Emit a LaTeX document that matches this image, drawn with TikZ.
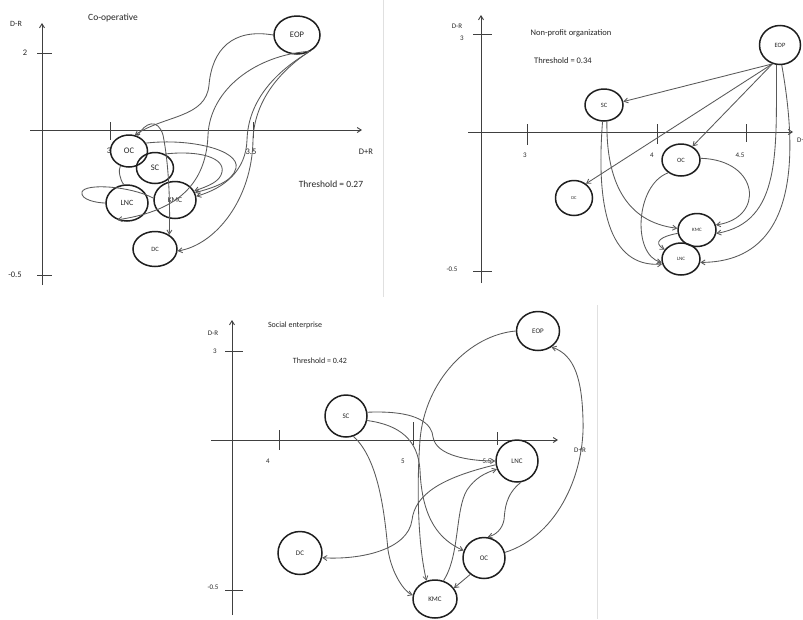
\documentclass[tikz,border=0pt]{standalone}
\usepackage{fontspec}
\setmainfont{Carlito}
\usetikzlibrary{shapes.geometric,arrows.meta}
\newcommand\fsz[1]{\fontsize{#1}{#1}\selectfont}
\begin{document}
\begin{tikzpicture}[x=1pt,y=-1pt,
  nd/.style={ellipse,draw=black!88,line width=1.5pt,inner sep=0pt,text=black!85},
  ax/.style={draw=black!75,line width=0.9pt},
  axa/.style={ax,-{Straight Barb[length=4pt,width=5pt]}},
  ed/.style={draw=black!65,line width=0.85pt,-{Straight Barb[length=4pt,width=5pt]}},
  edn/.style={draw=black!65,line width=0.85pt},
  lb/.style={text=black!85,inner sep=0pt},
]
\useasboundingbox (0,0) rectangle (803,619);
\fill[white] (0,0) rectangle (803,619);
% faint frame lines
\draw[black!12,line width=0.6pt] (383,0) -- (383,297);
\draw[black!12,line width=0.6pt] (597,305) -- (597,619);

% ================= Panel 1: Co-operative =================
\draw[axa] (42,285) -- (42,23);
\draw[axa] (30,130) -- (362,130);
\draw[ax] (37,53) -- (52,53);
\draw[ax] (37,275) -- (52,275);
\draw[ax] (110,122) -- (110,140);
\draw[ax] (253,122) -- (253,138);
\node[lb,font=\fsz{8}] (aDR) at (16,24) {D-R};
\node[lb,font=\fsz{8.5}] (aY2) at (25,53) {2};
\node[lb,font=\fsz{8.5}] (aYm) at (15,275) {-0.5};
\node[lb,font=\fsz{8.5}] (aX3) at (109,151) {3};
\node[lb,font=\fsz{8.5}] (aX35) at (251,152) {3.5};
\node[lb,font=\fsz{8.5}] (aDpR) at (366,152) {D+R};
\node[lb,font=\fsz{9.5}] (aT) at (113,18) {Co-operative};
\node[lb,font=\fsz{9.5}] (aTh) at (331,184) {Threshold = 0.27};

\node[nd,minimum width=46pt,minimum height=38pt,font=\fsz{8.5}] (aEOP) at (297,35) {EOP};
\node[nd,minimum width=37pt,minimum height=32pt,font=\fsz{8.5}] (aOC) at (129,151) {OC};
\node[nd,minimum width=37pt,minimum height=31pt,font=\fsz{8.5}] (aSC) at (155,168) {SC};
\node[nd,minimum width=42pt,minimum height=36pt,font=\fsz{8}] (aLNC) at (127,203) {LNC};
\node[nd,minimum width=42pt,minimum height=37pt,font=\fsz{7.5}] (aKMC) at (175,200) {KMC};
\node[nd,minimum width=44pt,minimum height=35pt,font=\fsz{6.5}] (aDC) at (155,249) {DC};

\draw[ed] (aEOP.180) .. controls (232,28) and (212,50) .. (209,85) .. controls (206,118) and (165,115) .. (aOC.70);
\draw[ed] (aEOP.-50) .. controls (255,55) and (210,90) .. (208,135) .. controls (206,190) and (170,212) .. (aLNC.-120);
\draw[ed] (aEOP.-55) .. controls (270,75) and (248,105) .. (247,140) .. controls (246,170) and (225,188) .. (aKMC.10);
\draw[ed] (aEOP.-60) .. controls (275,75) and (254,105) .. (253,140) .. controls (252,200) and (215,245) .. (aDC.-5);
\draw[ed] (aOC.25) .. controls (190,138) and (240,150) .. (236,168) .. controls (233,182) and (212,188) .. (aKMC.20);
\draw[ed] (aSC.55) .. controls (200,150) and (225,158) .. (222,172) .. controls (220,182) and (208,186) .. (aKMC.25);
\draw[ed] (aOC.60) .. controls (145,122) and (158,118) .. (163,135) .. controls (170,170) and (170,215) .. (aDC.45);
\draw[edn] (aKMC.175) .. controls (130,186) and (85,183) .. (82,192) .. controls (80,200) and (98,203) .. (aLNC.180);
\draw[edn] (aOC.-120) .. controls (118,170) and (120,180) .. (aLNC.100);

% ================= Panel 2: Non-profit organization =================
\draw[axa] (481,283) -- (481,15);
\draw[axa] (468,132) -- (793,132);
\draw[ax] (473,34) -- (492,34);
\draw[ax] (473,271) -- (492,271);
\draw[ax] (527,124) -- (527,145);
\draw[ax] (657,124) -- (657,144);
\draw[ax] (746,124) -- (746,142);
\node[lb,font=\fsz{7}] (bDR) at (457,26) {D-R};
\node[lb,font=\fsz{7}] (bY3) at (462,38) {3};
\node[lb,font=\fsz{7}] (bYm) at (452,269) {-0.5};
\node[lb,font=\fsz{7}] (bX3) at (525,155) {3};
\node[lb,font=\fsz{7}] (bX4) at (652,155) {4};
\node[lb,font=\fsz{7}] (bX45) at (740,155) {4.5};
\node[lb,font=\fsz{7},anchor=west] (bDpR) at (797,140) {D+R};
\node[lb,font=\fsz{8.5}] (bT) at (571,33) {Non-profit organization};
\node[lb,font=\fsz{8.5}] (bTh) at (563,61) {Threshold = 0.34};

\node[nd,minimum width=41pt,minimum height=39pt,font=\fsz{6.5}] (bEOP) at (780,45) {EOP};
\node[nd,minimum width=38pt,minimum height=32pt,font=\fsz{6.5}] (bSC) at (604,105) {SC};
\node[nd,minimum width=38pt,minimum height=32pt,font=\fsz{6.5}] (bOC) at (681,160) {OC};
\node[nd,minimum width=37pt,minimum height=35pt,font=\fsz{4.5}] (bDC) at (574,198) {DC};
\node[nd,minimum width=38pt,minimum height=33pt,font=\fsz{5}] (bKMC) at (697,230) {KMC};
\node[nd,minimum width=38pt,minimum height=32pt,font=\fsz{5}] (bLNC) at (681,259) {LNC};

\draw[ed] (bEOP.-112) -- (bSC.10);
\draw[ed] (bEOP.-112) -- (bDC.50);
\draw[ed] (bEOP.-112) -- (bOC.50);
\draw[ed] (bEOP.-100) .. controls (776,150) and (782,222) .. (bKMC.-10);
\draw[ed] (bEOP.-85) .. controls (795,140) and (805,262) .. (bLNC.-10);
\draw[ed] (bSC.-80) .. controls (606,180) and (625,222) .. (bKMC.175);
\draw[ed] (bSC.-95) .. controls (596,205) and (608,268) .. (bLNC.-165);
\draw[ed] (bOC.5) .. controls (760,160) and (765,218) .. (bKMC.15);
\draw[ed] (bOC.-135) .. controls (635,185) and (632,255) .. (bLNC.-170);
\draw[ed] (bKMC.-170) .. controls (662,236) and (652,242) .. (bLNC.150);

% ================= Panel 3: Social enterprise =================
\draw[axa] (232,615) -- (232,320);
\draw[axa] (211,440) -- (558,440);
\draw[ax] (225,351) -- (243,351);
\draw[ax] (225,590) -- (243,590);
\draw[ax] (279,430) -- (279,450);
\draw[ax] (413,422) -- (413,445);
\draw[ax] (497,432) -- (497,445);
\node[lb,font=\fsz{7}] (cDR) at (213,333) {D-R};
\node[lb,font=\fsz{7}] (cY3) at (215,351) {3};
\node[lb,font=\fsz{7}] (cYm) at (213,587) {-0.5};
\node[lb,font=\fsz{7}] (cX4) at (268,461) {4};
\node[lb,font=\fsz{7}] (cX5) at (403,461) {5};
\node[lb,font=\fsz{7}] (cX55) at (487,461) {5.5};
\node[lb,font=\fsz{7}] (cDpR) at (580,450) {D+R};
\node[lb,font=\fsz{8}] (cT) at (295,325) {Social enterprise};
\node[lb,font=\fsz{8}] (cTh) at (320,361) {Threshold = 0.42};

\node[nd,minimum width=43pt,minimum height=39pt,font=\fsz{7}] (cEOP) at (538,331) {EOP};
\node[nd,minimum width=42pt,minimum height=42pt,font=\fsz{7}] (cSC) at (346,416) {SC};
\node[nd,minimum width=42pt,minimum height=42pt,font=\fsz{7}] (cLNC) at (517,461) {LNC};
\node[nd,minimum width=42pt,minimum height=41pt,font=\fsz{7}] (cOC) at (484,558) {OC};
\node[nd,minimum width=44pt,minimum height=43pt,font=\fsz{7}] (cDC) at (300,553) {DC};
\node[nd,minimum width=44pt,minimum height=38pt,font=\fsz{7}] (cKMC) at (435,599) {KMC};

\draw[ed] (cSC.10) .. controls (420,410) and (432,425) .. (433,437) .. controls (436,456) and (470,461) .. (cLNC.180);
\draw[ed] (cSC.-12) .. controls (400,425) and (418,440) .. (420,470) .. controls (422,520) and (440,540) .. (cOC.160);
\draw[ed] (cSC.-70) .. controls (380,460) and (385,520) .. (388,550) .. controls (392,575) and (405,592) .. (cKMC.170);
\draw[ed] (cEOP.180) .. controls (470,335) and (425,380) .. (420,440) .. controls (417,480) and (417,540) .. (cKMC.115);
\draw[ed] (cOC.15) .. controls (560,535) and (585,470) .. (583,420) .. controls (582,380) and (575,355) .. (cEOP.-50);
\draw[ed] (cLNC.-80) .. controls (505,495) and (505,510) .. (504,520) .. controls (502,530) and (495,535) .. (cOC.80);
\draw[ed] (cLNC.-170) .. controls (440,478) and (415,495) .. (412,520) .. controls (408,550) and (360,560) .. (cDC.-12);
\draw[ed] (cKMC.65) .. controls (460,555) and (455,510) .. (467,490) .. controls (475,478) and (485,473) .. (cLNC.-158);
\draw[ed] (cOC.-130) -- (cKMC.30);
\end{tikzpicture}
\end{document}
